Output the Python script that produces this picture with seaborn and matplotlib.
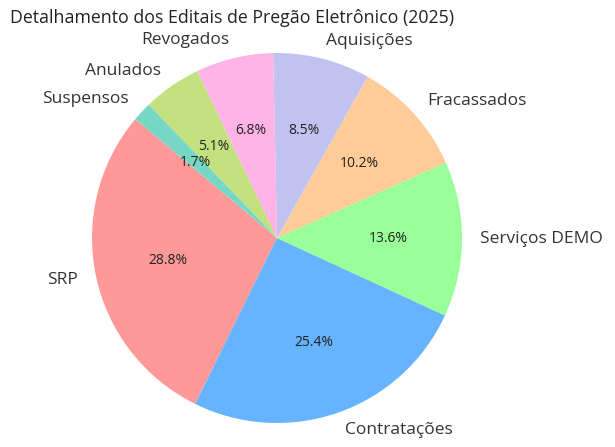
import matplotlib
matplotlib.use("Agg")
import matplotlib.pyplot as plt
import seaborn as sns

# --------------------------- DATA ---------------------------
categorias = ['SRP', 'Contratações', 'Serviços DEMO', 'Fracassados',
              'Aquisições', 'Revogados', 'Anulados', 'Suspensos']
quantidades = [17, 15, 8, 6, 5, 4, 3, 1]
cores = ['#ff9999', '#66b3ff', '#99ff99', '#ffcc99',
         '#c2c2f0', '#ffb3e6', '#c4e17f', '#76d7c4']
titulo = 'Detalhamento dos Editais de Pregão Eletrônico (2025)'

# --------------------------- SETTINGS ---------------------------
sns.set_theme(style="white")
plt.rcParams['font.family'] = ['Open Sans', 'DejaVu Sans']

fig = plt.figure(figsize=(6.15, 4.47), dpi=100)
ax = fig.add_axes([0.1496, 0.0537, 0.6016, 0.8277])

wedges, textos, pcts = ax.pie(
    quantidades,
    labels=categorias,
    colors=cores,
    autopct='%1.1f%%',
    startangle=140,
    wedgeprops={'linewidth': 0},
    textprops={'fontsize': 12.5, 'color': '#333333'},
)
for t in pcts:
    t.set_fontsize(10)
    t.set_color('#222222')

ax.set_xlim(-1, 1)
ax.set_ylim(-1, 1)
ax.set_aspect('equal')

fig.text(10 / 615, 1 - 18 / 447, titulo, ha='left', va='center',
         fontsize=12.8, color='#222222')

plt.savefig('out.png', dpi=100)
